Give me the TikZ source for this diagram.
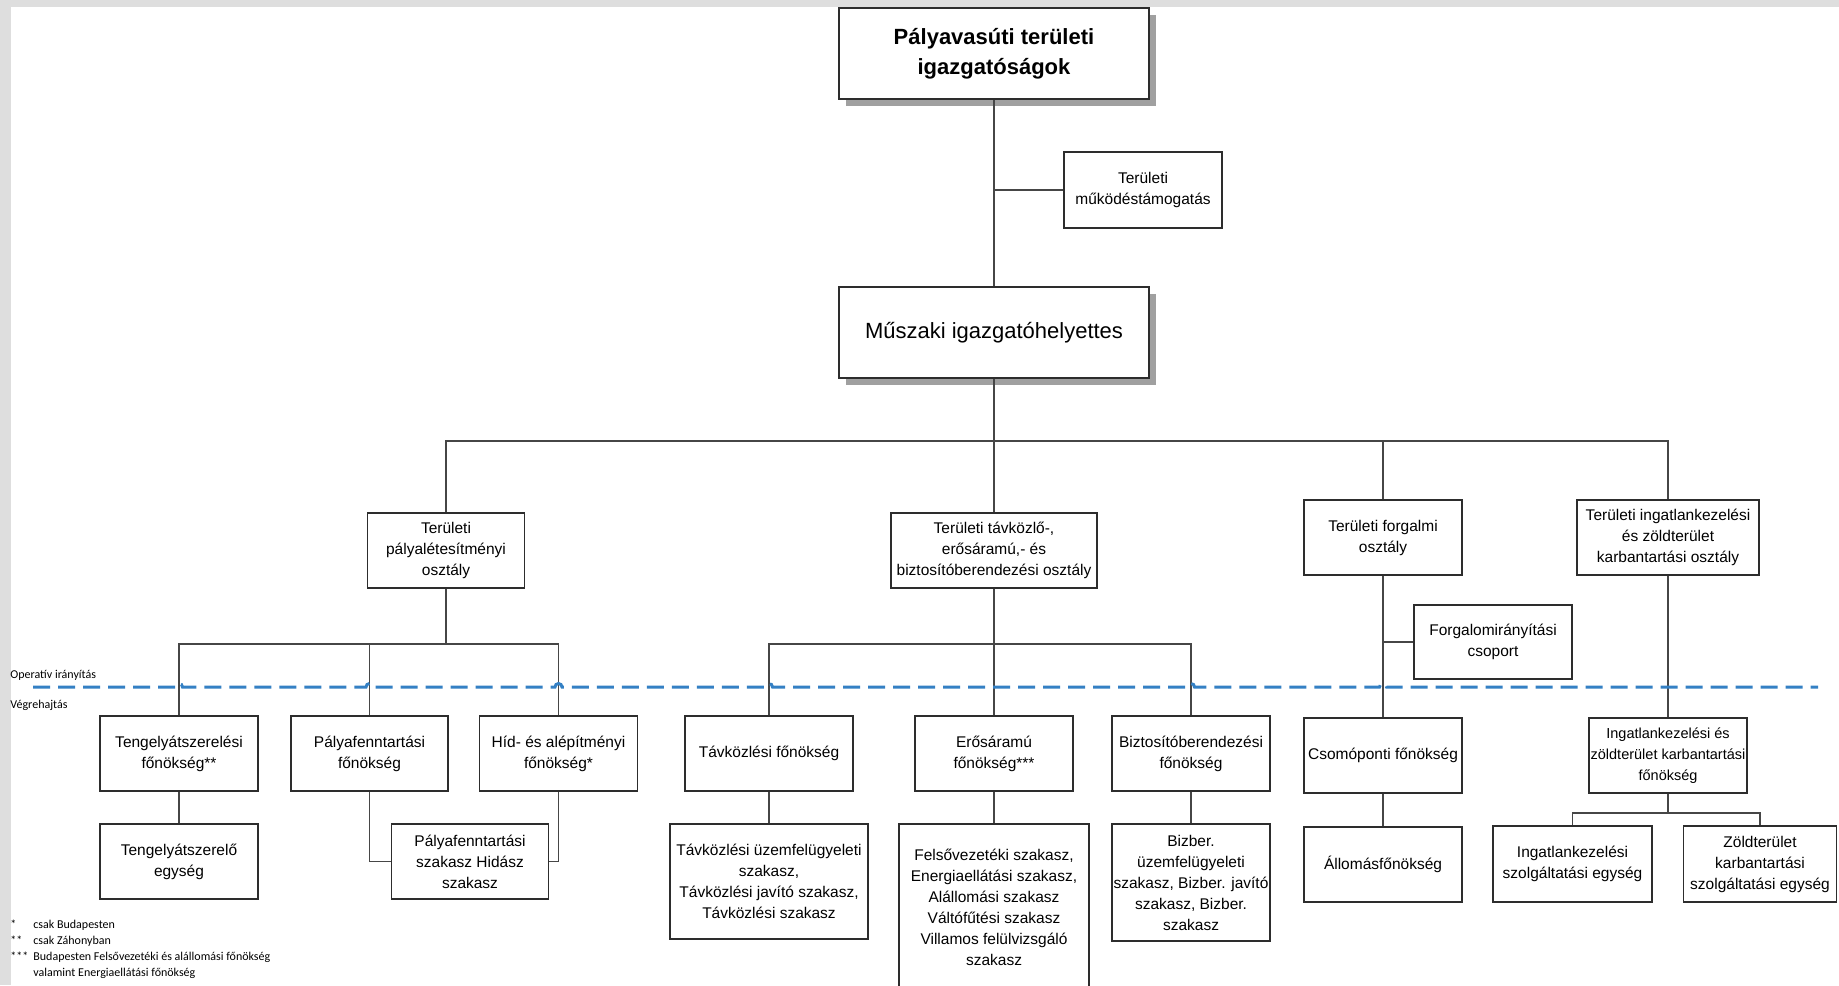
\documentclass[tikz,border=0pt]{standalone}
\usepackage{fontspec}
\setmainfont{Liberation Sans}
\newfontfamily\notefont{Carlito}
\usetikzlibrary{shadows,calc}
\definecolor{linegray}{RGB}{45,45,45}
\definecolor{edgegray}{RGB}{70,70,70}
\definecolor{shadowgray}{RGB}{160,160,160}
\definecolor{framegray}{RGB}{222,222,222}
\definecolor{sepblue}{RGB}{52,128,196}

\begin{document}
\begin{tikzpicture}
[x=0.5pt,y=-0.5pt,
 boxdecorate/.style={draw=linegray,line width=0.7pt,fill=white,align=center,
   inner xsep=0.5pt,inner ysep=1pt,font=\fontsize{7.75}{10.5}\selectfont},
 headdecorate/.style={boxdecorate,font=\fontsize{11}{15}\selectfont,
   drop shadow={shadow xshift=3.5pt,shadow yshift=-3.5pt,fill=shadowgray,opacity=1}},
 linedecorate/.style={draw=edgegray,line width=0.6pt},
 sepdecorate/.style={draw=sepblue,line width=1.5pt,dash pattern=on 8.5pt off 4pt},
 notedecorate/.style={font=\notefont\fontsize{6}{8}\selectfont,inner sep=0pt}]
%% page and margins
\fill[white] (0,0) rectangle (1839,985);
\fill[framegray] (0,0) rectangle (1839,7);
\fill[framegray] (0,0) rectangle (11,985);
\useasboundingbox (0,0) rectangle (1839,985);
%% head boxes
\node (igazg) at (994,53.5) [headdecorate,font=\bfseries\fontsize{11}{15}\selectfont,
  minimum width=155pt,minimum height=45.5pt] {Pályavasúti területi\\igazgatóságok};
\node (muszaki) at (994,332.5) [headdecorate,minimum width=155pt,minimum height=45.5pt]
  {Műszaki igazgatóhelyettes};
%% boxes
\foreach \nodename/\x/\y/\w/\h/\boxtext in {
  mukod/1143/190/158/76/{Területi\\működéstámogatás},
  palyalet/446/550.5/157/75/{Területi\\pályalétesítményi\\osztály},
  tavosztaly/994/550.5/206/75/{Területi távközlő-,\\erősáramú,- és\\biztosítóberendezési osztály},
  forgosztaly/1383/537.5/158/75/{Területi forgalmi\\osztály},
  ingosztaly/1668/537.5/182/75/{Területi ingatlankezelési\\és zöldterület\\karbantartási osztály},
  forgcsop/1493/642/158/74/{Forgalomirányítási\\csoport},
  tengely/179/753.5/158/75/{Tengelyátszerelési\\főnökség**},
  palyafon/369.5/753.5/157/75/{Pályafenntartási\\főnökség},
  hidfon/558.5/753.5/158/75/{Híd- és alépítményi\\főnökség*},
  tavfon/769/753.5/168/75/{Távközlési főnökség},
  erosfon/994/753.5/158/75/{Erősáramú\\főnökség***},
  bizfon/1191/753.5/158/75/{Biztosítóberendezési\\főnökség},
  csomofon/1383/755.5/158/75/{Csomóponti főnökség},
  tengegys/179/861.5/158/75/{Tengelyátszerelő\\egység},
  palyasz/470/861.5/157/75/{Pályafenntartási\\szakasz Hidász\\szakasz},
  tavsz/769/881.5/198/115/{Távközlési üzemfelügyeleti\\szakasz,\\Távközlési javító szakasz,\\Távközlési szakasz},
  erossz/994/907/190/166/{Felsővezetéki szakasz,\\Energiaellátási szakasz,\\Alállomási szakasz\\Váltófűtési szakasz\\Villamos felülvizsgáló\\szakasz},
  bizsz/1191/882.5/158/117/{Bizber.\\üzemfelügyeleti\\szakasz, Bizber. javító\\szakasz, Bizber.\\szakasz},
  allomas/1383/864.5/158/75/{Állomásfőnökség},
  ingegys/1572.5/864/159/76/{Ingatlankezelési\\szolgáltatási egység},
  zoldegys/1760/864/153/76/{Zöldterület\\karbantartási\\szolgáltatási egység}}
{
  \node (\nodename) at (\x,\y) [boxdecorate,minimum width=\w*0.5pt,minimum height=\h*0.5pt] {\boxtext};
}
\node (ingfon) at (1668,755.5) [boxdecorate,font=\fontsize{7.25}{10.5}\selectfont,
  minimum width=79pt,minimum height=37.5pt] {Ingatlankezelési és\\zöldterület karbantartási\\főnökség};
%% edges
\coordinate (busa) at (994,441);
\coordinate (busb) at (446,644);
\coordinate (busc) at (994,644);
\coordinate (busd) at (1668,813);
\path
\foreach \startnode/\endnode in {igazg/muszaki, forgosztaly/csomofon, ingosztaly/ingfon,
  tengely/tengegys, tavfon/tavsz, erosfon/erossz, bizfon/bizsz, csomofon/allomas} {
  (\startnode.south) edge[linedecorate] (\endnode.north)
};
\foreach \startnode/\bus/\endnode in {muszaki/busa/palyalet, muszaki/busa/tavosztaly,
  muszaki/busa/forgosztaly, muszaki/busa/ingosztaly, palyalet/busb/tengely,
  palyalet/busb/palyafon, palyalet/busb/hidfon, tavosztaly/busc/tavfon,
  tavosztaly/busc/erosfon, tavosztaly/busc/bizfon, ingfon/busd/ingegys, ingfon/busd/zoldegys}
  \draw[linedecorate] (\startnode.south) -- (\bus) -| (\endnode.north);
\draw[linedecorate] (mukod.west) -- (mukod.west -| igazg.south);
\draw[linedecorate] (forgcsop.west) -- (forgcsop.west -| forgosztaly.south);
\draw[linedecorate] (palyafon.south) |- (palyasz.west);
\draw[linedecorate] (hidfon.south) |- (palyasz.east);
%% separator line
\coordinate (sepstart) at (33,687);
\coordinate (sepend) at (1818,687);
\draw[sepdecorate] (sepstart)
  \foreach \crossnode in {tengely,palyafon,hidfon,tavfon,bizfon,csomofon} {
    -- ($(\crossnode.north |- sepstart)+(-1.75pt,0)$) arc[start angle=180,end angle=0,radius=1.75pt]
  } -- (sepend);
%% labels and notes
\node (operativ) at (10,675) [notedecorate,anchor=west] {Operatív irányítás};
\node (vegrehajt) at (10,705) [notedecorate,anchor=west] {Végrehajtás};
\node (jegyzet) at (10,917) [notedecorate,anchor=north west]
  {\begin{tabular}{@{}p{11.5pt}@{}l@{}}
   {*} & csak Budapesten\\
   {**} & csak Záhonyban\\
   {***} & Budapesten Felsővezetéki és alállomási főnökség\\
   {} & valamint Energiaellátási főnökség
   \end{tabular}};
\end{tikzpicture}
\end{document}
